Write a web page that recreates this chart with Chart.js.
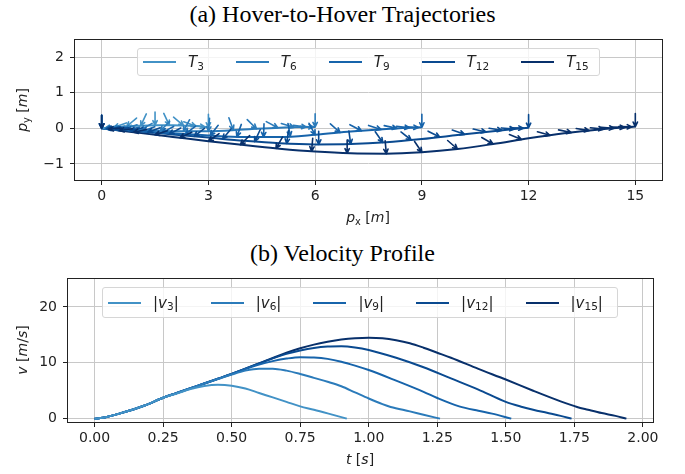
<!DOCTYPE html>
<html>
<head>
<meta charset="utf-8">
<script src="https://cdn.jsdelivr.net/npm/chart.js@4"></script>
<style>
  body { margin: 0; background: #fff; }
  #lienzo { position: relative; width: 685px; height: 474px; overflow: hidden; font-family: "DejaVu Sans", sans-serif; color: #222; }
  canvas { position: absolute; left: 0; }
  .titulo { position: absolute; left: 0; width: 685px; text-align: center; font-family: "Liberation Serif", serif; font-size: 24px; line-height: 27px; color: #000; }
  .eje { position: absolute; font-size: 14px; line-height: 16px; text-align: center; white-space: nowrap; }
  .leyenda { position: absolute; display: flex; align-items: center; background: rgba(255,255,255,0.8); border: 1px solid #d6d6d6; border-radius: 3px; box-sizing: border-box; padding-left: 5px; font-size: 15px; z-index: 2; }
  .item { display: flex; align-items: center; margin-right: 32px; white-space: nowrap; }
  .linea { display: inline-block; width: 33px; height: 2px; margin-right: 12px; }
  sub { font-size: 70%; vertical-align: baseline; position: relative; top: 0.35em; line-height: 0; }
</style>
</head>
<body>
<div id="lienzo">
  <div class="titulo" style="top:1px">(a) Hover-to-Hover Trajectories</div>
  <canvas id="graficoTray" width="685" height="235" style="top:0"></canvas>
  <div class="leyenda" id="leyendaTray" style="left:137px; top:48px; width:463px; height:28px"></div>
  <div class="eje" style="left:268px; top:209px; width:200px"><i>p</i><sub>x</sub> [<i>m</i>]</div>
  <div class="eje" style="left:-38px; top:102px; width:120px; transform:rotate(-90deg)"><i>p</i><sub>y</sub> [<i>m</i>]</div>

  <div class="titulo" style="top:240px">(b) Velocity Profile</div>
  <canvas id="graficoVel" width="685" height="239" style="top:235px"></canvas>
  <div class="leyenda" id="leyendaVel" style="left:102px; top:287px; width:516px; height:31px"></div>
  <div class="eje" style="left:260px; top:451px; width:200px"><i>t</i> [<i>s</i>]</div>
  <div class="eje" style="left:-38px; top:342px; width:120px; transform:rotate(-90deg)"><i>v</i> [<i>m</i>/<i>s</i>]</div>
</div>

<script>
// Datos
const subindices = ['3', '6', '9', '12', '15'];
const colores = ['#4292c6', '#2b7bba', '#1764ab', '#0a4a90', '#08306b'];

// trayectorias (posicion x, posicion y)
const px3 = [0, 0.5, 1, 1.5, 2, 2.5, 3];
const py3 = [0, 0.04, 0.07, 0.09, 0.09, 0.07, 0.03];
const px6 = [0, 1, 2, 3, 4, 5, 6];
const py6 = [0, -0.04, -0.08, -0.08, -0.03, 0.02, 0.04];
const px9 = [0, 1, 2, 3, 4, 5, 6, 7, 8, 9];
const py9 = [0, -0.07, -0.14, -0.2, -0.24, -0.24, -0.18, -0.09, -0.02, 0.03];
const px12 = [0, 1, 2, 3, 4, 5, 6, 7, 8, 9, 10, 11, 12];
const py12 = [0, -0.08, -0.17, -0.26, -0.35, -0.42, -0.45, -0.44, -0.39, -0.3, -0.19, -0.08, 0.02];
const px15 = [0, 1, 2, 3, 4, 5, 6, 7, 8, 9, 10, 11, 12, 13, 14, 15];
const py15 = [0, -0.12, -0.24, -0.36, -0.47, -0.57, -0.65, -0.7, -0.71, -0.67, -0.58, -0.44, -0.28, -0.14, -0.03, 0.05];

// flechas: [x, y, angulo en grados]
const flechas3 = [[0, 0, 90], [0.1, 0.008, 10], [0.35, 0.028, 20], [0.7, 0.052, 40], [1.1, 0.074, 65], [1.5, 0.09, 90],
  [1.9, 0.09, 115], [2.3, 0.078, 140], [2.65, 0.058, 160], [2.9, 0.04, 172], [3, 0.03, 90]];
const flechas6 = [[0, 0, 90], [0.1, -0.004, 8], [0.3, -0.012, 12], [0.65, -0.026, 20], [1.1, -0.044, 30], [1.65, -0.066, 45],
  [2.3, -0.08, 62], [3.0, -0.08, 85], [3.7, -0.045, 110], [4.35, -0.012, 135], [4.95, 0.018, 152], [5.4, 0.028, 163],
  [5.75, 0.035, 172], [5.95, 0.039, 177], [6, 0.04, 90]];
const flechas9 = [[0, 0, 90], [0.12, -0.008, 5], [0.35, -0.025, 8], [0.7, -0.049, 13], [1.15, -0.081, 20], [1.7, -0.119, 28],
  [2.35, -0.165, 38], [3.05, -0.202, 52], [3.8, -0.232, 70], [4.55, -0.24, 88], [5.3, -0.222, 100], [6.0, -0.18, 118],
  [6.7, -0.117, 138], [7.3, -0.069, 152], [7.85, -0.03, 162], [8.3, 0.0, 168], [8.65, 0.016, 173], [8.9, 0.024, 177], [9, 0.03, 90]];
const flechas12 = [[0, 0, 90], [0.15, -0.012, 5], [0.4, -0.032, 8], [0.8, -0.064, 13], [1.3, -0.107, 20], [1.9, -0.161, 28],
  [2.6, -0.224, 38], [3.4, -0.296, 50], [4.3, -0.371, 65], [5.2, -0.426, 82], [6.1, -0.449, 90], [7.0, -0.44, 98],
  [7.9, -0.395, 125], [8.7, -0.327, 142], [9.5, -0.245, 153], [10.2, -0.168, 161], [10.8, -0.102, 167], [11.25, -0.055, 171],
  [11.6, -0.02, 175], [11.85, 0.005, 178], [12, 0.02, 90]];
const flechas15 = [[0, 0, 90], [0.2, -0.024, 5], [0.5, -0.06, 8], [0.9, -0.108, 12], [1.5, -0.18, 18], [2.2, -0.264, 25],
  [3.0, -0.36, 35], [3.9, -0.459, 45], [4.9, -0.56, 60], [5.9, -0.642, 85], [6.9, -0.695, 90], [8.0, -0.71, 95],
  [9.0, -0.67, 124], [10.0, -0.58, 139], [11.0, -0.44, 150], [11.8, -0.312, 158], [12.6, -0.196, 164], [13.2, -0.118, 168],
  [13.7, -0.063, 171], [14.1, -0.022, 174], [14.4, 0.002, 176], [14.7, 0.026, 178], [14.9, 0.042, 179], [15, 0.05, 90]];

// perfiles de velocidad (tiempo, |v|)
const t3 = [0, 0.03, 0.09, 0.18, 0.25, 0.3, 0.35, 0.4, 0.45, 0.5, 0.55, 0.6, 0.65, 0.7, 0.75, 0.8, 0.85, 0.92];
const v3 = [0, 0.15, 0.9, 2.3, 3.75, 4.5, 5.3, 5.85, 6.07, 5.9, 5.4, 4.6, 3.8, 3.0, 2.2, 1.6, 0.95, 0];
const t6 = [0, 0.03, 0.09, 0.18, 0.25, 0.3, 0.35, 0.4, 0.45, 0.5, 0.55, 0.6, 0.65, 0.7, 0.75, 0.8, 0.85, 0.9, 0.95, 1.0, 1.05, 1.08, 1.15, 1.2, 1.26];
const v6 = [0, 0.15, 0.9, 2.3, 3.75, 4.6, 5.45, 6.3, 7.1, 7.9, 8.6, 8.95, 8.95, 8.6, 8.0, 7.3, 6.6, 5.8, 4.7, 3.6, 2.6, 2.1, 1.3, 0.7, 0];
const t9 = [0, 0.03, 0.09, 0.18, 0.25, 0.3, 0.35, 0.4, 0.45, 0.5, 0.55, 0.6, 0.65, 0.7, 0.75, 0.8, 0.85, 0.9, 0.95, 1.0, 1.1, 1.2, 1.25, 1.33, 1.4, 1.45, 1.52];
const v9 = [0, 0.15, 0.9, 2.3, 3.75, 4.6, 5.45, 6.3, 7.15, 8.0, 8.9, 9.7, 10.3, 10.75, 11.0, 10.95, 10.7, 10.2, 9.5, 8.7, 6.8, 4.8, 3.7, 2.2, 1.4, 0.9, 0];
const t12 = [0, 0.03, 0.09, 0.18, 0.25, 0.3, 0.35, 0.4, 0.45, 0.5, 0.55, 0.6, 0.65, 0.7, 0.75, 0.8, 0.85, 0.9, 0.95, 1.0, 1.1, 1.2, 1.3, 1.4, 1.5, 1.56, 1.6, 1.65, 1.7, 1.74];
const v12 = [0, 0.15, 0.9, 2.3, 3.75, 4.6, 5.45, 6.3, 7.15, 8.0, 8.95, 9.9, 10.8, 11.6, 12.2, 12.65, 12.9, 12.95, 12.75, 12.3, 10.9, 9.2, 7.2, 5.2, 3.0, 2.1, 1.6, 1.05, 0.5, 0];
const t15 = [0, 0.03, 0.09, 0.18, 0.25, 0.3, 0.35, 0.4, 0.45, 0.5, 0.55, 0.6, 0.65, 0.7, 0.75, 0.8, 0.85, 0.9, 0.95, 1.0, 1.05, 1.1, 1.15, 1.2, 1.25, 1.3, 1.4, 1.5, 1.6, 1.7, 1.76, 1.8, 1.85, 1.9, 1.94];
const v15 = [0, 0.15, 0.9, 2.3, 3.75, 4.6, 5.45, 6.3, 7.15, 8.0, 8.95, 9.9, 10.85, 11.8, 12.6, 13.25, 13.75, 14.15, 14.4, 14.5, 14.4, 14.05, 13.5, 12.7, 11.8, 10.9, 8.9, 7.0, 5.0, 3.1, 2.1, 1.6, 1.0, 0.5, 0];

// ticks
const ticksPx = [0, 3, 6, 9, 12, 15];
const ticksPy = [-1, 0, 1, 2];
const ticksT = [0, 0.25, 0.5, 0.75, 1.0, 1.25, 1.5, 1.75, 2.0];
const ticksV = [0, 10, 20];

const trayX = [px3, px6, px9, px12, px15];
const trayY = [py3, py6, py9, py12, py15];
const todasFlechas = [flechas3, flechas6, flechas9, flechas12, flechas15];
const tiempos = [t3, t6, t9, t12, t15];
const velocidades = [v3, v6, v9, v12, v15];

// Leyendas en HTML (con subindices)
function armarLeyenda(id, texto) {
    document.getElementById(id).innerHTML = subindices.map((s, i) =>
        `<div class="item"><span class="linea" style="background:${colores[i]}"></span>${texto(s)}</div>`).join('');
}
armarLeyenda('leyendaTray', s => `<i>T</i><sub>${s}</sub>`);
armarLeyenda('leyendaVel', s => `|<i>v</i><sub>${s}</sub>|`);

const menos = v => String(v).replace('-', '\u2212');

function escala(min, max, ticks, fmt, tam, esX) {
    return {
        type: 'linear', min: min, max: max,
        afterBuildTicks: s => { s.ticks = ticks.map(v => ({ value: v })); },
        afterFit: s => { if (esX) s.height = tam; else s.width = tam; },
        grid: { color: '#c8c8c8', lineWidth: 1, tickColor: '#222', tickLength: 5 },
        border: { display: false },
        ticks: { color: '#222', font: { family: 'DejaVu Sans', size: 14 }, padding: esX ? 3 : 6, autoSkip: false, maxRotation: 0, callback: fmt }
    };
}

// marco completo del area del grafico
const marco = {
    id: 'marco',
    afterDraw(chart) {
        const { ctx, chartArea: a } = chart;
        ctx.save();
        ctx.strokeStyle = '#222';
        ctx.lineWidth = 1;
        ctx.strokeRect(Math.round(a.left) - 0.5, Math.round(a.top) - 0.5, Math.round(a.right - a.left) + 1, Math.round(a.bottom - a.top) + 1);
        ctx.restore();
    }
};

// flechas (quiver) dibujadas con las escalas del grafico
const dibujarFlechas = {
    id: 'flechas',
    afterDatasetsDraw(chart) {
        const ctx = chart.ctx, sx = chart.scales.x, sy = chart.scales.y;
        const largo = 13, punta = 5;
        ctx.save();
        ctx.lineWidth = 1.6;
        ctx.lineCap = 'round';
        todasFlechas.forEach((lista, i) => {
            ctx.strokeStyle = colores[i];
            lista.forEach(([x, y, ang]) => {
                const hx = sx.getPixelForValue(x), hy = sy.getPixelForValue(y);
                const r = ang * Math.PI / 180;
                const tx = hx + largo * Math.cos(r), ty = hy - largo * Math.sin(r);
                const dx = (hx - tx) / largo, dy = (hy - ty) / largo;
                ctx.beginPath();
                ctx.moveTo(tx, ty);
                ctx.lineTo(hx, hy);
                [0.45, -0.45].forEach(g => {
                    const c = Math.cos(g), s = Math.sin(g);
                    const bx = -(dx * c - dy * s), by = -(dx * s + dy * c);
                    ctx.moveTo(hx, hy);
                    ctx.lineTo(hx + punta * bx, hy + punta * by);
                });
                ctx.stroke();
            });
        });
        ctx.restore();
    }
};

new Chart(document.getElementById('graficoTray'), {
    type: 'scatter',
    data: {
        datasets: trayX.map((xs, i) => ({
            label: 'T' + subindices[i],
            data: xs.map((x, j) => ({ x: x, y: trayY[i][j] })),
            showLine: true,
            borderColor: colores[i],
            borderWidth: 2,
            pointRadius: 0,
            cubicInterpolationMode: 'monotone'
        }))
    },
    options: {
        responsive: false,
        animation: false,
        layout: { padding: { top: 40, right: 23, left: 0, bottom: 0 } },
        plugins: { legend: { display: false }, tooltip: { enabled: false } },
        scales: {
            x: escala(-0.75, 15.75, ticksPx, v => menos(v), 55, true),
            y: escala(-1.45, 2.48, ticksPy, v => menos(v), 75, false)
        }
    },
    plugins: [dibujarFlechas, marco]
});

new Chart(document.getElementById('graficoVel'), {
    type: 'scatter',
    data: {
        datasets: tiempos.map((ts, i) => ({
            label: '|v' + subindices[i] + '|',
            data: ts.map((t, j) => ({ x: t, y: velocidades[i][j] })),
            showLine: true,
            borderColor: colores[i],
            borderWidth: 2,
            pointRadius: 0,
            cubicInterpolationMode: 'monotone'
        }))
    },
    options: {
        responsive: false,
        animation: false,
        layout: { padding: { top: 44, right: 32, left: 0, bottom: 0 } },
        plugins: { legend: { display: false }, tooltip: { enabled: false } },
        scales: {
            x: escala(-0.097, 2.037, ticksT, v => v.toFixed(2), 52, true),
            y: escala(-0.6, 25, ticksV, v => menos(v), 68, false)
        }
    },
    plugins: [marco]
});
</script>
</body>
</html>
